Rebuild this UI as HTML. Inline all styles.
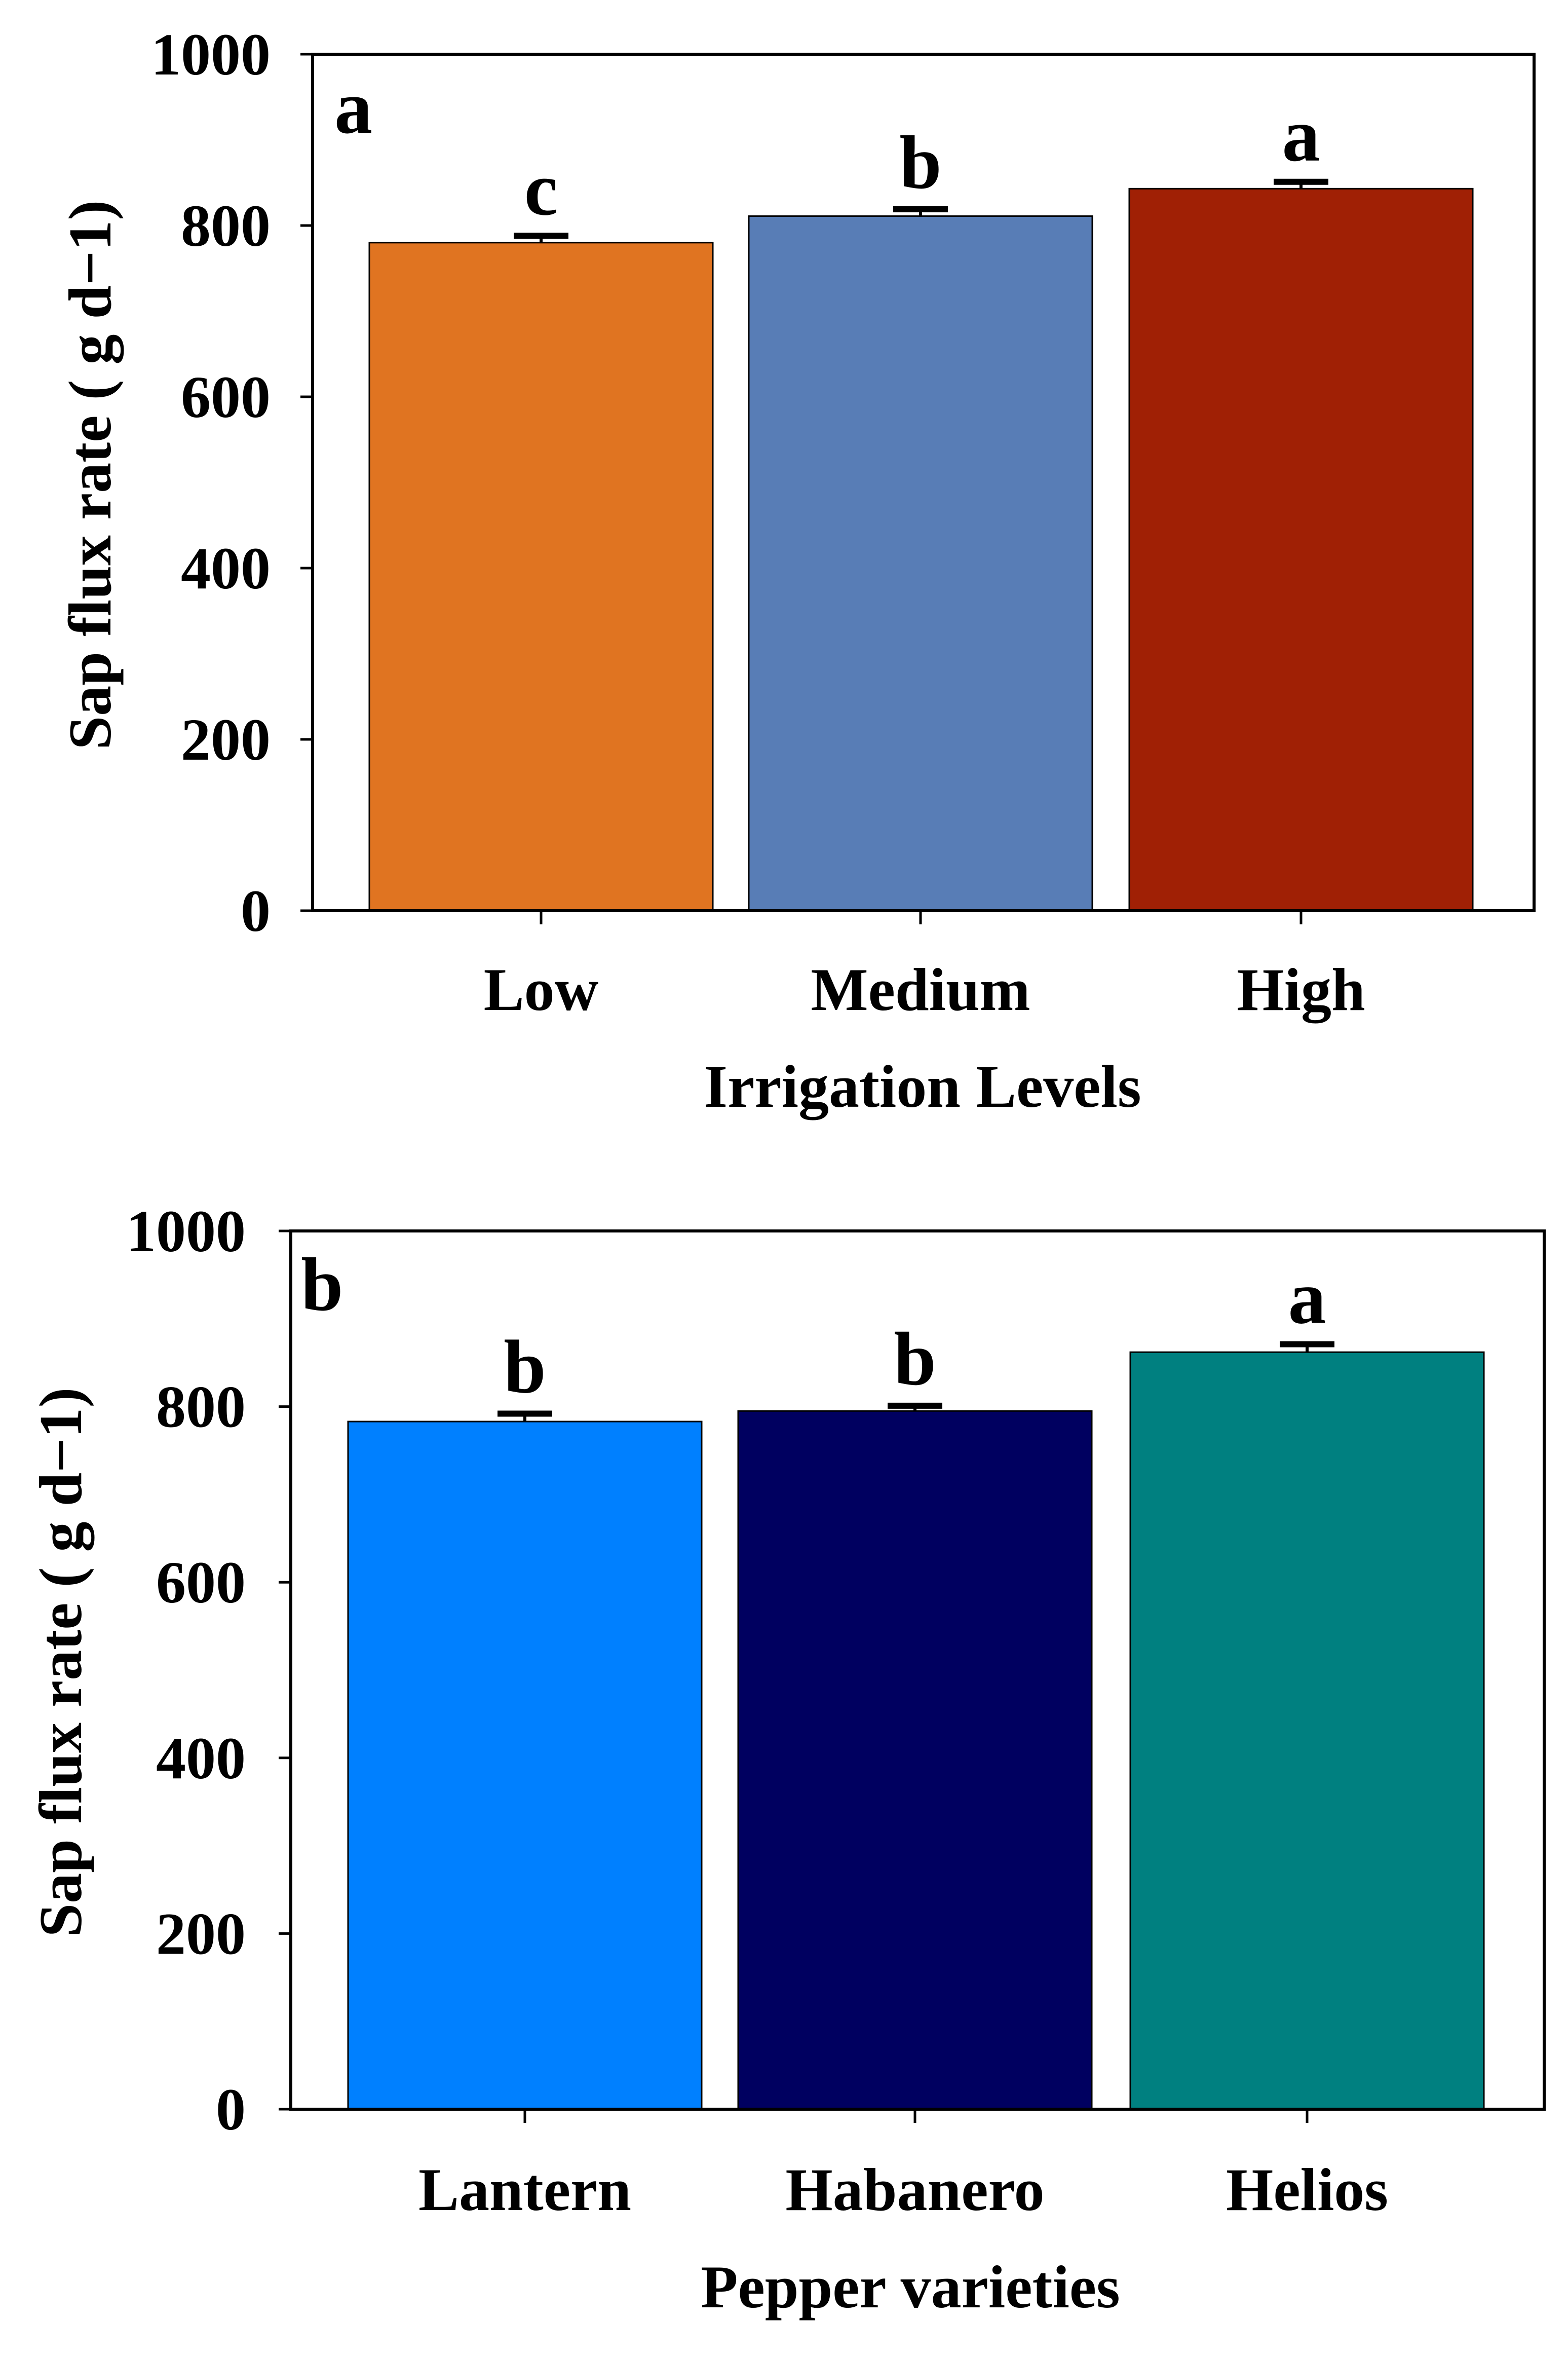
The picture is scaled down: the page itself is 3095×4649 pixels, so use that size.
<!DOCTYPE html>
<html><head><meta charset="utf-8"><style>
html,body{margin:0;padding:0;background:#fff;}
svg{display:block;}
text{font-family:"Liberation Serif",serif;font-weight:bold;fill:#000;}
</style></head><body>
<svg id="fig" width="3095" height="4649" viewBox="0 0 3095 4649" xmlns="http://www.w3.org/2000/svg"></svg>
<script>
const catsA = ["Low","Medium","High"];
const valsA = [780, 811, 843];
const errA = [8, 8, 8];
const lettersA = ["c","b","a"];
const colorsA = ["#E07421","#587DB6","#A02005"];
const catsB = ["Lantern","Habanero","Helios"];
const valsB = [783, 795, 862];
const errB = [9, 6, 9];
const lettersB = ["b","b","a"];
const colorsB = ["#0080FF","#000060","#008080"];
const yTicks = [0,200,400,600,800,1000];
const yTickLabels = ["0","200","400","600","800","1000"];

const NS="http://www.w3.org/2000/svg";
const svg=document.getElementById('fig');
function mk(tag,attrs,parent){const e=document.createElementNS(NS,tag);for(const k in attrs)e.setAttribute(k,attrs[k]);(parent||svg).appendChild(e);return e;}

function panel(cfg){
  const g=mk('g',{});
  
  
  const L=cfg.left,R=cfg.right,T=cfg.top,B=cfg.bottom;
  const y=v=>B-(v/1000)*(B-T);
  const xc=i=>cfg.centers[i];
  cfg.vals.forEach((v,i)=>{
    const bw=cfg.barW;
    const r=mk('rect',{x:xc(i)-bw/2,y:y(v),width:bw,height:B-y(v),fill:cfg.colors[i],stroke:'#000','stroke-width':3},g);
    
    
    const eb=mk('g',{},g);
    
    
    mk('line',{x1:xc(i),x2:xc(i),y1:y(v),y2:y(v+cfg.err[i]),stroke:'#000','stroke-width':6},eb);
    mk('line',{x1:xc(i)-54,x2:xc(i)+54,y1:y(v+cfg.err[i]),y2:y(v+cfg.err[i]),stroke:'#000','stroke-width':12},eb);
    const lt=mk('text',{x:xc(i),y:y(v+cfg.err[i])-42,'text-anchor':'middle','font-size':150},g);
    lt.textContent=cfg.letters[i];
    
    
    const tk=mk('line',{x1:xc(i),x2:xc(i),y1:B,y2:B+27,stroke:'#000','stroke-width':5},g);
    
    
    const xl=mk('text',{x:xc(i),y:cfg.xlabY,'text-anchor':'middle','font-size':120},g);
    xl.textContent=cfg.cats[i];
    
    
  });
  const fr=mk('rect',{x:L,y:T,width:R-L,height:B-T,fill:'none',stroke:'#000','stroke-width':6},g);
  
  
  yTicks.forEach((t,i)=>{
    const tl=mk('line',{x1:L-24,x2:L,y1:y(t),y2:y(t),stroke:'#000','stroke-width':5},g);
    
    
    const tx=mk('text',{x:cfg.ylabRight,y:y(t)+40,'text-anchor':'end','font-size':118},g);
    tx.textContent=yTickLabels[i];
    
    
  });
  const pl=mk('text',{x:cfg.panelX,y:cfg.panelY,'font-size':150},g);
  pl.textContent=cfg.panel;
  
  
  const xt=mk('text',{x:cfg.xtitleX,y:cfg.xtitleY,'text-anchor':'middle','font-size':120},g);
  xt.textContent=cfg.xtitle;
  
  
  const yt=mk('text',{x:0,y:0,'text-anchor':'middle','font-size':120,transform:`translate(${cfg.ytitleX},${cfg.ytitleY}) rotate(-90)`},g);
  yt.textContent='Sap flux rate ( g d\u22121)';
  
  
}

panel({name:'panel-a-irrigation',left:617,right:3028,top:107,bottom:1797,centers:[1068,1817,2568],barW:678,
  cats:catsA,vals:valsA,err:errA,letters:lettersA,colors:colorsA,xlabY:1993,ylabRight:534,
  panel:'a',panelX:660,panelY:262,xtitle:'Irrigation Levels',xtitleX:1821,xtitleY:2184,ytitleX:218,ytitleY:937});
panel({name:'panel-b-varieties',left:574,right:3048,top:2429,bottom:4162,centers:[1036,1806,2580],barW:698,
  cats:catsB,vals:valsB,err:errB,letters:lettersB,colors:colorsB,xlabY:4361,ylabRight:485,
  panel:'b',panelX:594,panelY:2585,xtitle:'Pepper varieties',xtitleX:1797,xtitleY:4553,ytitleX:160,ytitleY:3280});
</script>
</body></html>
